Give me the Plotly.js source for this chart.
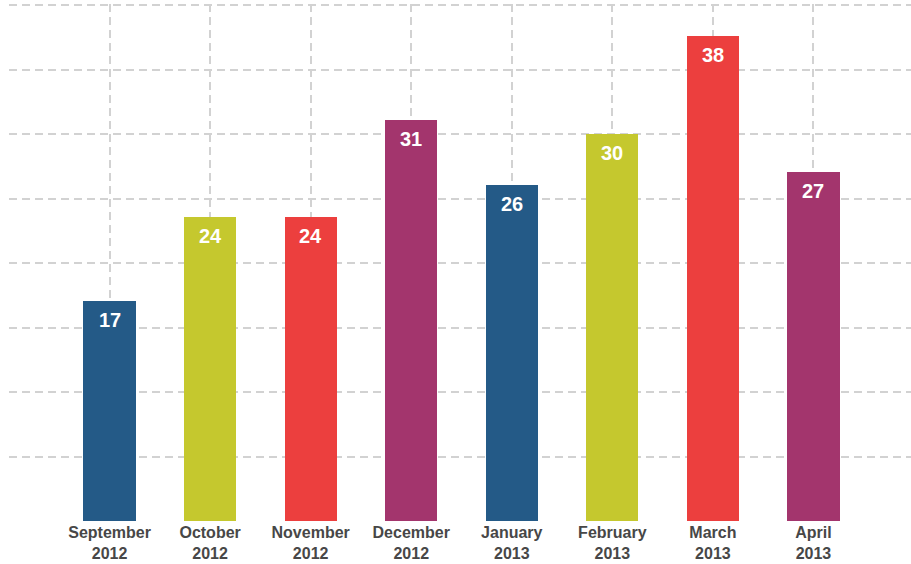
<!DOCTYPE html>
<html>
<head>
<meta charset="utf-8">
<script src="https://cdn.plot.ly/plotly-3.0.1.min.js"></script>
<style>html,body{margin:0;padding:0;background:#fff;}#chart{width:911px;height:564px;}</style>
</head>
<body>
<div id="chart"></div>
<script>
const months = ["September", "October", "November", "December", "January", "February", "March", "April"];
const years = ["2012", "2012", "2012", "2012", "2013", "2013", "2013", "2013"];
const values = [17.1, 23.6, 23.6, 31.1, 26.1, 30.05, 37.6, 27.1];
const barColors = ["#245a87", "#c5c82e", "#ec3f3e", "#a3356d", "#245a87", "#c5c82e", "#ec3f3e", "#a3356d"];

const idx = values.map((v, i) => i);
const tickvals = [-1].concat(idx);
const ticktext = [""].concat(months.map((m, i) => m + "<br>" + years[i]));

const trace = {
  type: "bar",
  x: idx,
  y: values,
  width: 0.52,
  marker: {color: barColors, line: {width: 0}},
  hoverinfo: "none"
};

const annotations = values.map((v, i) => ({
  x: i, y: v, xref: "x", yref: "y",
  text: String(Math.round(v)),
  showarrow: false,
  yanchor: "top",
  yshift: -6,
  font: {family: "Liberation Sans, Arial, sans-serif", size: 20, color: "#ffffff", weight: "bold"}
}));

const layout = {
  width: 911, height: 564,
  margin: {l: 9, r: 0, t: 4, b: 43},
  paper_bgcolor: "#ffffff",
  plot_bgcolor: "#ffffff",
  showlegend: false,
  bargap: 0,
  xaxis: {
    type: "linear",
    range: [-1, 7.97],
    tickmode: "array",
    tickvals: tickvals,
    ticktext: ticktext,
    showgrid: true,
    gridcolor: "#d2d2d2",
    gridwidth: 2,
    griddash: "8px,5px",
    zeroline: false,
    showline: false,
    ticks: "",
    tickfont: {family: "Liberation Sans, Arial, sans-serif", size: 16, color: "#474747", weight: "bold"},
    fixedrange: true
  },
  yaxis: {
    range: [0, 40.1],
    tickmode: "array",
    tickvals: [0, 5, 10, 15, 20, 25, 30, 35, 40],
    showticklabels: false,
    showgrid: true,
    gridcolor: "#d2d2d2",
    gridwidth: 2,
    griddash: "8px,5px",
    zeroline: false,
    showline: false,
    ticks: "",
    fixedrange: true
  },
  annotations: annotations
};

Plotly.newPlot("chart", [trace], layout, {displayModeBar: false, staticPlot: true});
</script>
</body>
</html>
